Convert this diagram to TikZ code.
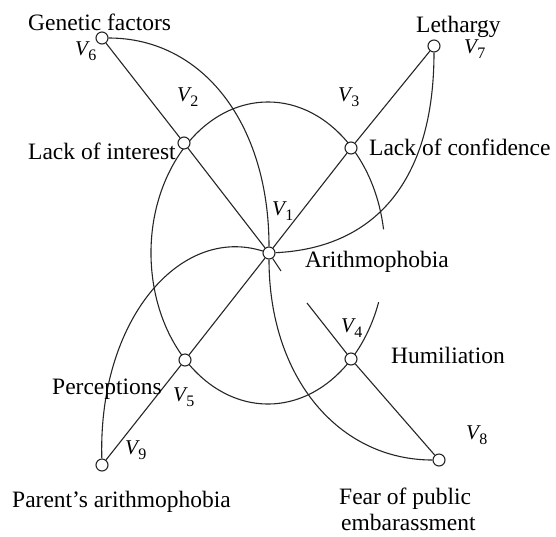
\documentclass[tikz,border=0pt]{standalone}
\usepackage{fontspec}
\setmainfont{Liberation Serif}
\newcommand\vsub[1]{{\fontsize{21}{21}\selectfont\itshape V}\kern0.3pt\raisebox{-5pt}{\fontsize{16}{16}\selectfont #1}}
\begin{document}
\begin{tikzpicture}[x=1pt,y=1pt,
  vtx/.style={circle,draw=black!85,fill=white,minimum size=12pt,inner sep=0pt,line width=1.1pt},
  edge/.style={line width=1.1pt,draw=black!85},
  lbl/.style={anchor=base west,inner sep=0pt,font=\fontsize{23.5}{28}\selectfont},
  vl/.style={anchor=north west,inner sep=0pt}]
\useasboundingbox (0,0) rectangle (556,-536);

% big open ellipse through V2, V3, V4, V5
\draw[edge] ([shift={(9:117pt and 151pt)}]268,-253) arc[start angle=9,end angle=341,x radius=117pt,y radius=151pt];

% vertices
\node[vtx] (v1) at (269,-253) {};
\node[vtx] (v2) at (184,-143) {};
\node[vtx] (v3) at (351,-148) {};
\node[vtx] (v4) at (351,-359) {};
\node[vtx] (v5) at (185,-360) {};
\node[vtx] (v6) at (102,-38) {};
\node[vtx] (v7) at (434,-46) {};
\node[vtx] (v8) at (439,-460) {};
\node[vtx] (v9) at (102,-465) {};
\coordinate (e1) at (281,-271);
\coordinate (s4) at (307,-303);

% straight connectors
\draw[edge] (v6) -- (v2);
\draw[edge] (v2) -- (v1);
\draw[edge] (v1) -- (e1);
\draw[edge] (s4) -- (v4);
\draw[edge] (v4) -- (v8);
\draw[edge] (v7) -- (v3);
\draw[edge] (v3) -- (v1);
\draw[edge] (v1) -- (v5);
\draw[edge] (v5) -- (v9);

% curved connectors
\draw[edge] (v6) .. controls (203,-38) and (269,-124) .. (v1);
\draw[edge] (v1) .. controls (269,-378) and (339,-460) .. (v8);
\draw[edge] (v7) .. controls (434,-181) and (375,-248) .. (v1);
\draw[edge] (v1) .. controls (180,-225) and (98,-320) .. (v9);

% text labels
\node[lbl] (t6) at (28,-30) {Genetic factors};
\node[lbl] (t2) at (28,-159) {Lack of interest};
\node[lbl] (t3) at (369,-155) {Lack of confidence};
\node[lbl] (t7) at (416,-32) {Lethargy};
\node[lbl] (t1) at (305,-267) {Arithmophobia};
\node[lbl] (t4) at (391,-363) {Humiliation};
\node[lbl] (t5) at (52,-394) {Perceptions};
\node[lbl] (t9) at (12,-507) {Parent’s arithmophobia};
\node[lbl] (t8a) at (339,-504) {Fear of public};
\node[lbl] (t8b) at (341,-530) {embarassment};

% vertex names
\node[vl] (n6) at (75,-42) {\vsub{6}};
\node[vl] (n2) at (177,-88) {\vsub{2}};
\node[vl] (n3) at (338,-88) {\vsub{3}};
\node[vl] (n7) at (464,-40) {\vsub{7}};
\node[vl] (n1) at (272,-202) {\vsub{1}};
\node[vl] (n4) at (341,-319) {\vsub{4}};
\node[vl] (n8) at (466,-426) {\vsub{8}};
\node[vl] (n5) at (173,-388) {\vsub{5}};
\node[vl] (n9) at (125,-441) {\vsub{9}};
\end{tikzpicture}
\end{document}
